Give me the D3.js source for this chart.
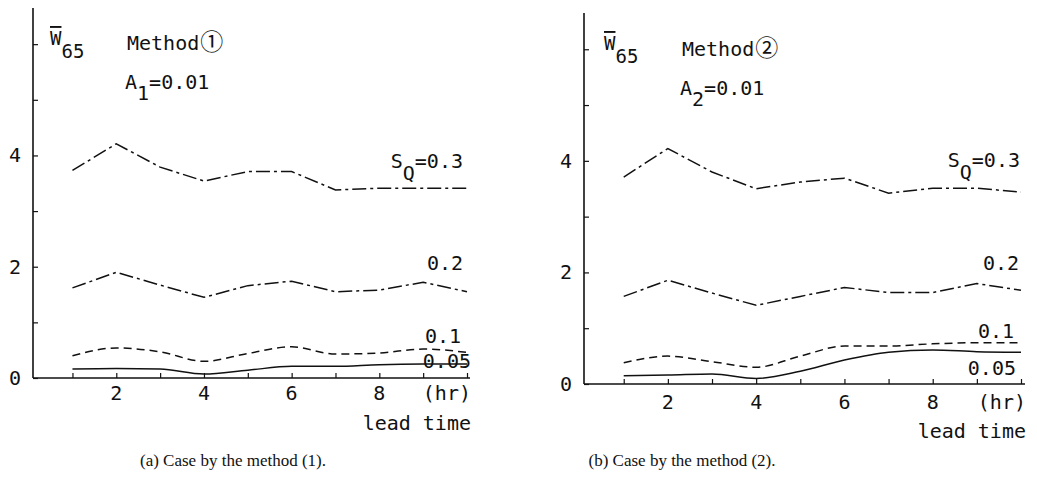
<!DOCTYPE html>
<html><head><meta charset="utf-8">
<script src="https://cdn.jsdelivr.net/npm/d3@7"></script>
<style>
body{margin:0;background:#fff;}
text{font-family:"DejaVu Sans Mono","Liberation Mono",monospace;fill:#111;}
.cap{font-family:"Liberation Serif","Times New Roman",serif;}
</style></head>
<body><svg id="c" width="1037" height="477"></svg>
<script>
// ---- data ----
const hours = [1,2,3,4,5,6,7,8,9,10];
const yTicks = [0,1,2,3,4,5,6];
const yTickLabels = ["0","","2","","4","",""];
const xTickLabels = ["","2","","4","","6","","8","",""];
const seriesNames = ["S_Q=0.3","0.2","0.1","0.05"];
// panel (a) method 1
const a_sq03 = [3.73,4.21,3.79,3.54,3.71,3.71,3.38,3.41,3.41,3.41];
const a_sq02 = [1.62,1.90,1.67,1.45,1.66,1.74,1.55,1.58,1.72,1.55];
const a_sq01 = [0.40,0.54,0.47,0.30,0.44,0.56,0.43,0.45,0.52,0.46];
const a_sq005 = [0.16,0.17,0.16,0.07,0.14,0.21,0.21,0.24,0.25,0.25];
// panel (b) method 2
const b_sq03 = [3.71,4.22,3.80,3.50,3.62,3.69,3.42,3.51,3.51,3.44];
const b_sq02 = [1.57,1.86,1.63,1.41,1.57,1.73,1.64,1.64,1.80,1.68];
const b_sq01 = [0.38,0.50,0.40,0.30,0.50,0.68,0.68,0.72,0.74,0.74];
const b_sq005 = [0.15,0.16,0.18,0.10,0.23,0.43,0.57,0.61,0.58,0.57];

const svg = d3.select("#c");

const panels = [
  {series:[a_sq03,a_sq02,a_sq01,a_sq005], x0:33, x1:467, xEnd:470, y0:378, y1:8,
   method:"Method", circ:"\u2460", A:"A", Asub:"1", cap:"(a) Case by the method (1).",
   wX:50, wY:45, mX:127, mY:50, aY:89, capX:233,
   lbl:[[463,168],[463,270],[461,343],[471,368]], tickLblY:400, hrX:471, leadY:430},
  {series:[b_sq03,b_sq02,b_sq01,b_sq005], x0:584, x1:1021, xEnd:1025, y0:384, y1:13,
   method:"Method", circ:"\u2461", A:"A", Asub:"2", cap:"(b) Case by the method (2).",
   wX:604, wY:50, mX:682, mY:56, aY:95, capX:682,
   lbl:[[1020,167],[1019,270],[1014,338],[1016,375]], tickLblY:409, hrX:1026, leadY:438}
];

const styles = [
  {dash:"14,4,3,4"},
  {dash:"14,4,3,4"},
  {dash:"8,5"},
  {dash:null}
];

panels.forEach(p => {
  const g = svg.append("g");
  const x = d3.scaleLinear().domain([0.1,10]).range([p.x0,p.x1]);
  const y = d3.scaleLinear().domain([0,6.65]).range([p.y0,p.y1]);

  // y axis
  const ya = d3.axisRight(y).tickValues(yTicks).tickSize(5).tickFormat("");
  const yg = g.append("g").attr("transform",`translate(${p.x0},0)`).call(ya);
  yg.select(".domain").remove();
  g.append("line").attr("x1",p.x0).attr("x2",p.x0).attr("y1",y(6.65)).attr("y2",y(0))
    .attr("stroke","#111").attr("stroke-width",1.6);
  yg.selectAll(".tick line").attr("stroke","#111").attr("stroke-width",1.2);
  g.selectAll(".ylab").data(yTicks).enter().append("text")
    .attr("x",p.x0-12).attr("y",d=>y(d)+7).attr("text-anchor","end")
    .attr("font-size",20).text((d,i)=>yTickLabels[i]);

  // x axis
  const xa = d3.axisTop(x).tickValues(hours).tickSize(5).tickFormat("");
  const xg = g.append("g").attr("transform",`translate(0,${p.y0})`).call(xa);
  xg.select(".domain").remove();
  xg.selectAll(".tick line").attr("stroke","#111").attr("stroke-width",1.2);
  g.append("line").attr("x1",p.x0).attr("x2",p.xEnd).attr("y1",y(0)).attr("y2",y(0))
    .attr("stroke","#111").attr("stroke-width",1.6);
  g.selectAll(".xlab").data(hours).enter().append("text")
    .attr("x",d=>x(d)).attr("y",p.tickLblY).attr("text-anchor","middle")
    .attr("font-size",20).text((d,i)=>xTickLabels[i]);
  g.append("text").attr("x",p.hrX).attr("y",p.tickLblY).attr("text-anchor","end")
    .attr("font-size",20).text("(hr)");
  g.append("text").attr("x",p.hrX).attr("y",p.leadY).attr("text-anchor","end")
    .attr("font-size",20).text("lead time");

  // lines
  p.series.forEach((s,i) => {
    const line = d3.line().x((d,j)=>x(hours[j])).y(d=>y(d))
      .curve(i>=2 ? d3.curveMonotoneX : d3.curveLinear);
    const path = g.append("path").datum(s).attr("d",line)
      .attr("fill","none").attr("stroke","#111").attr("stroke-width",1.5);
    if (styles[i].dash) path.attr("stroke-dasharray",styles[i].dash);
  });

  // series labels
  const l0 = g.append("text").attr("x",p.lbl[0][0]).attr("y",p.lbl[0][1])
    .attr("text-anchor","end").attr("font-size",20);
  l0.append("tspan").text("S");
  l0.append("tspan").attr("dy",12).text("Q");
  l0.append("tspan").attr("dy",-12).text("=0.3");
  [1,2,3].forEach(i => {
    g.append("text").attr("x",p.lbl[i][0]).attr("y",p.lbl[i][1])
      .attr("text-anchor","end").attr("font-size",20).text(seriesNames[i]);
  });

  // titles
  const w = g.append("text").attr("x",p.wX).attr("y",p.wY).attr("font-size",19);
  w.append("tspan").attr("text-decoration","overline").style("text-decoration","overline").text("W");
  w.append("tspan").attr("dy",13).text("65");
  const m = g.append("text").attr("x",p.mX).attr("y",p.mY).attr("font-size",20);
  m.append("tspan").text(p.method);
  m.append("tspan").attr("font-family","'Noto Sans CJK JP',sans-serif").attr("font-size",23).attr("dx",1).text(p.circ);
  const a = g.append("text").attr("x",p.mX-2).attr("y",p.aY).attr("font-size",20);
  a.append("tspan").text(p.A);
  a.append("tspan").attr("dy",11).text(p.Asub);
  a.append("tspan").attr("dy",-11).text("=0.01");

  // caption
  g.append("text").attr("class","cap").attr("x",p.capX).attr("y",466)
    .attr("text-anchor","middle").attr("font-size",17).text(p.cap);
});
</script></body></html>
